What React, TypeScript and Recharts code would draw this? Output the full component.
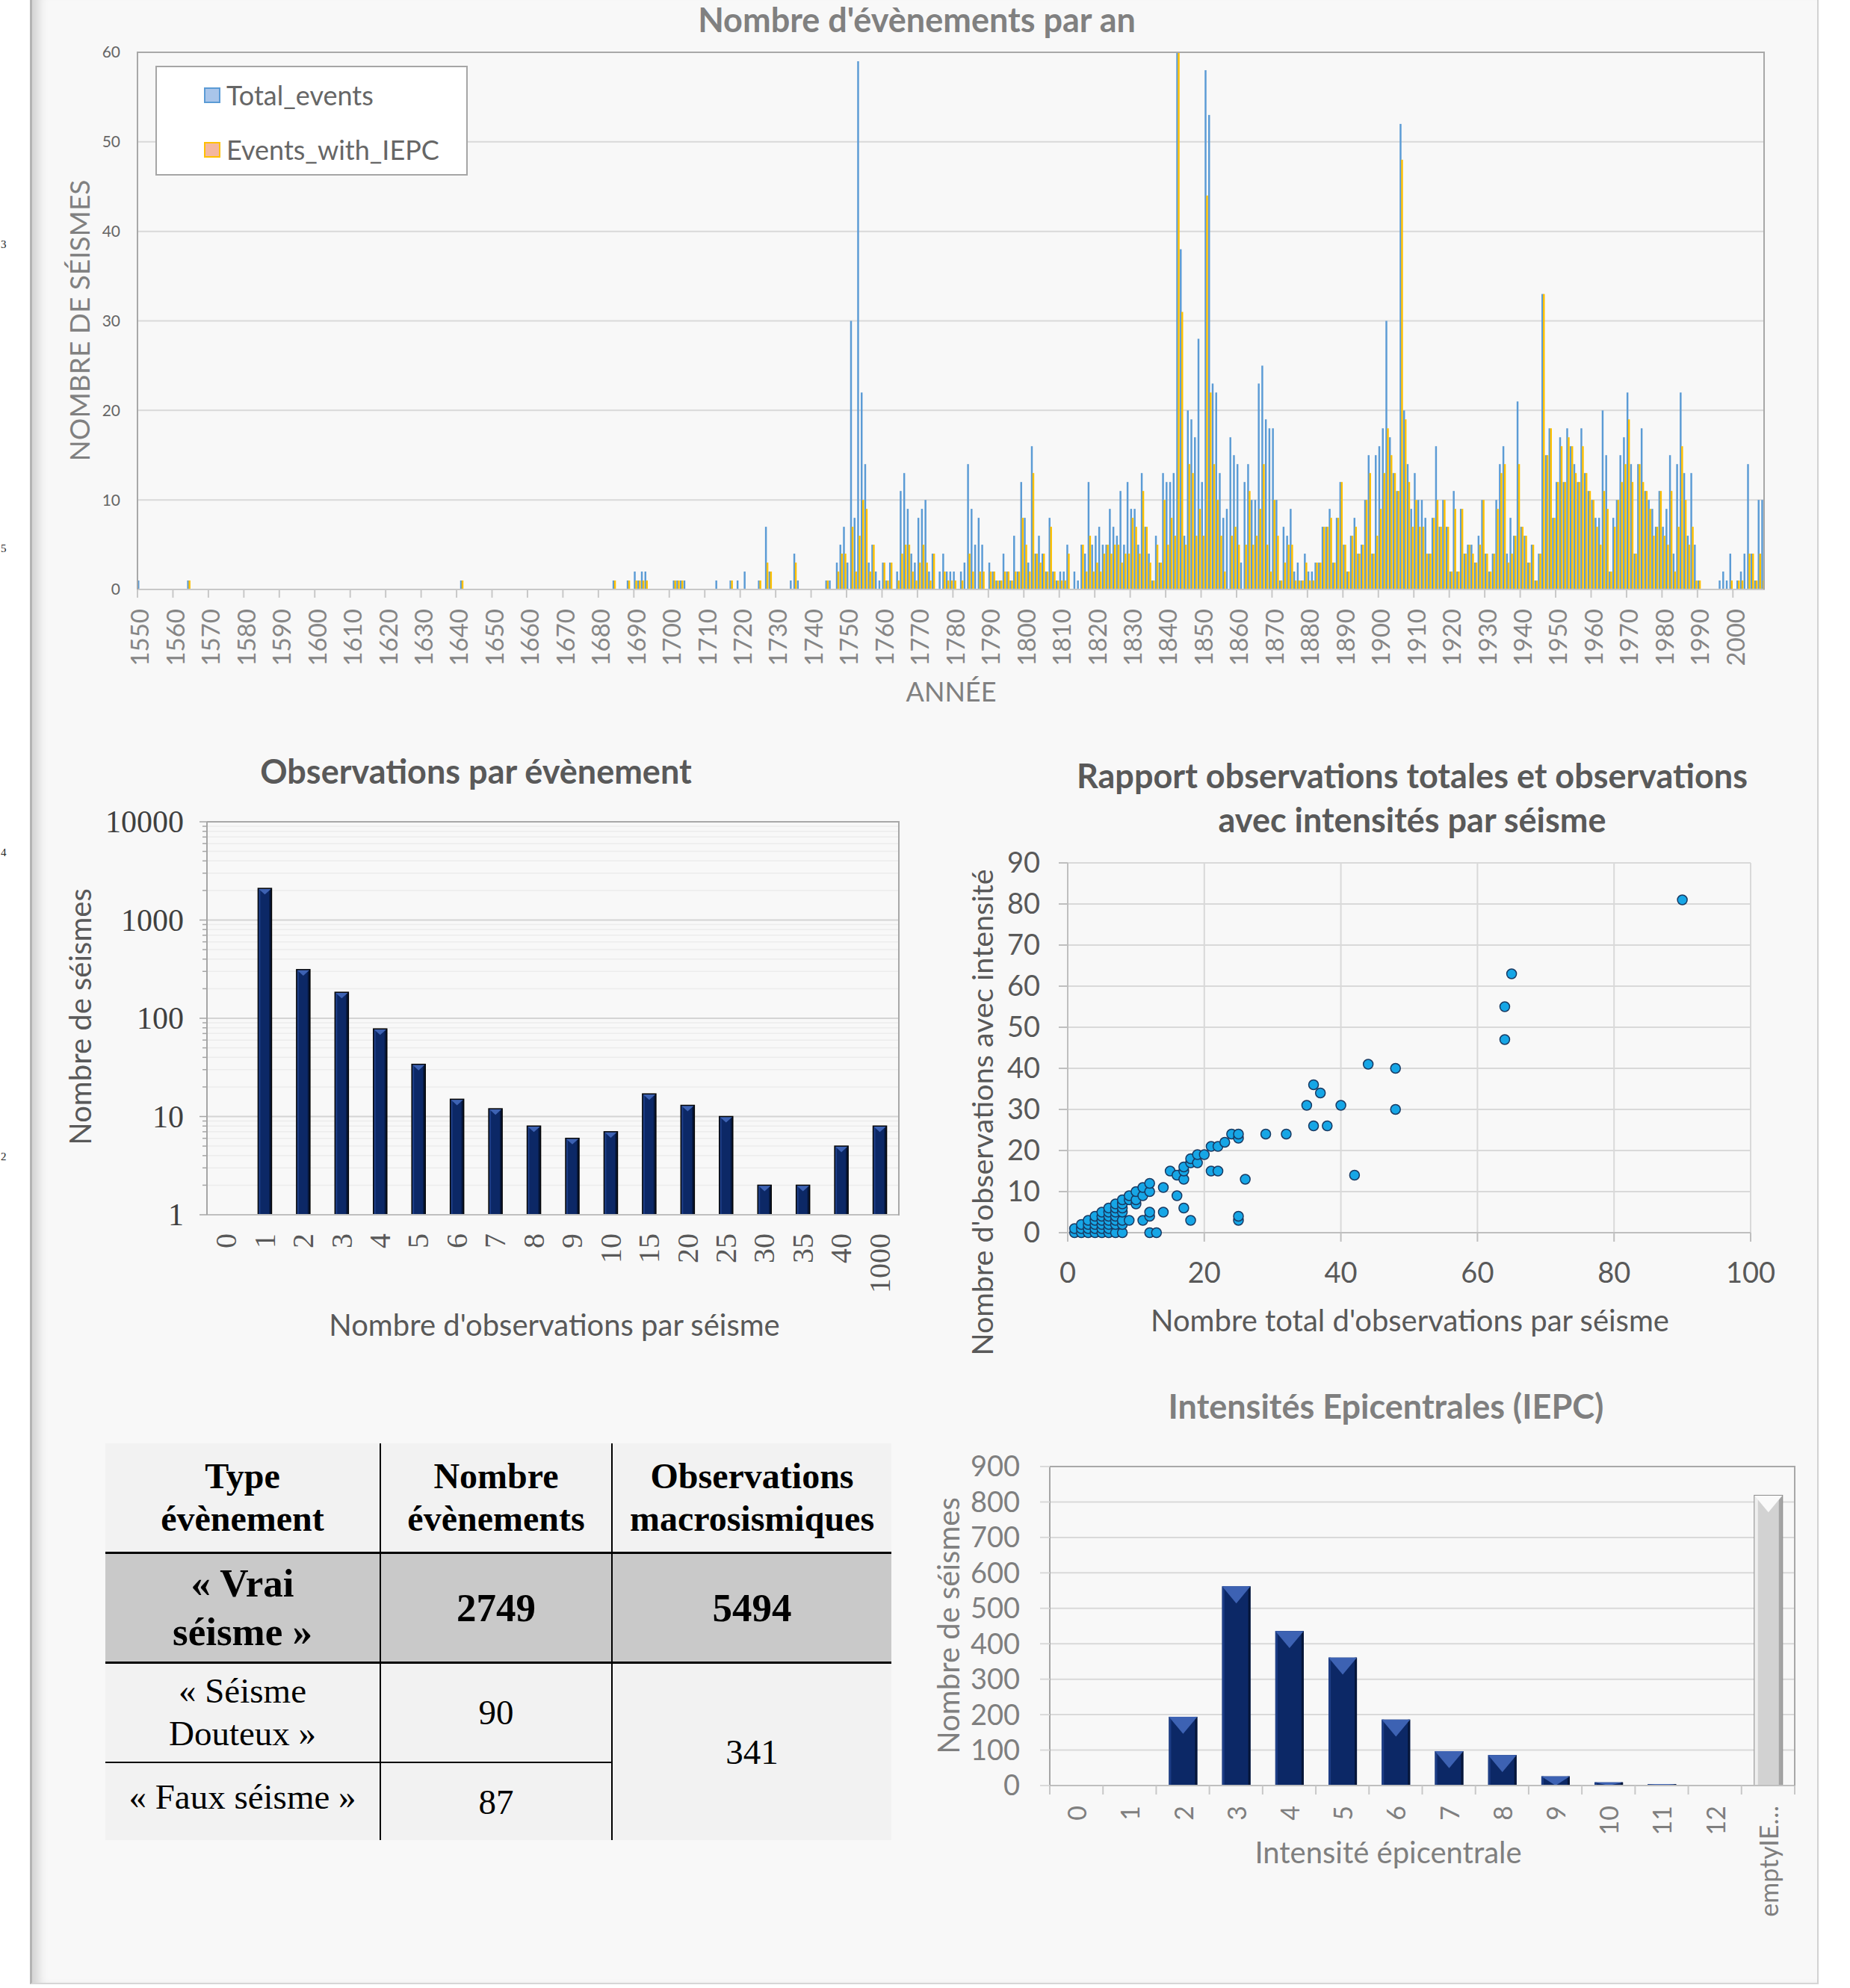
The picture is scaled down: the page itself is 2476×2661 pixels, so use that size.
import React from "react";
import { Bar, BarChart, CartesianGrid, Scatter, ScatterChart, XAxis, YAxis } from "recharts";

const SANS = "Lato, 'Open Sans', sans-serif";
const SERIF = "'Liberation Serif', 'DejaVu Serif', serif";

// ---- Nombre d'évènements par an (one row per decade, from 1550) ----
const firstYear = 1550;
const totalEvents: number[][] = [
  [1, 0, 0, 0, 0, 0, 0, 0, 0, 0], // 1550
  [0, 0, 0, 0, 1, 0, 0, 0, 0, 0],
  [0, 0, 0, 0, 0, 0, 0, 0, 0, 0],
  [0, 0, 0, 0, 0, 0, 0, 0, 0, 0],
  [0, 0, 0, 0, 0, 0, 0, 0, 0, 0],
  [0, 0, 0, 0, 0, 0, 0, 0, 0, 0], // 1600
  [0, 0, 0, 0, 0, 0, 0, 0, 0, 0],
  [0, 0, 0, 0, 0, 0, 0, 0, 0, 0],
  [0, 0, 0, 0, 0, 0, 0, 0, 0, 0],
  [0, 1, 0, 0, 0, 0, 0, 0, 0, 0],
  [0, 0, 0, 0, 0, 0, 0, 0, 0, 0], // 1650
  [0, 0, 0, 0, 0, 0, 0, 0, 0, 0],
  [0, 0, 0, 0, 0, 0, 0, 0, 0, 0],
  [0, 0, 0, 0, 1, 0, 0, 0, 1, 0],
  [2, 1, 2, 2, 0, 0, 0, 0, 0, 0],
  [0, 1, 1, 1, 1, 0, 0, 0, 0, 0], // 1700
  [0, 0, 0, 1, 0, 0, 0, 1, 0, 1],
  [0, 2, 0, 0, 0, 1, 0, 7, 2, 0],
  [0, 0, 0, 0, 1, 4, 1, 0, 0, 0],
  [0, 0, 0, 0, 1, 1, 0, 3, 5, 7],
  [3, 30, 8, 59, 22, 14, 3, 5, 2, 1], // 1750
  [3, 1, 3, 0, 2, 11, 13, 9, 4, 3],
  [8, 9, 10, 2, 4, 0, 2, 4, 2, 2],
  [2, 0, 2, 3, 14, 9, 5, 8, 5, 0],
  [3, 2, 1, 1, 4, 2, 1, 6, 2, 12],
  [8, 3, 16, 4, 6, 4, 2, 8, 2, 1], // 1800
  [2, 2, 5, 0, 2, 1, 5, 4, 12, 5],
  [6, 7, 5, 5, 9, 7, 6, 11, 5, 12],
  [9, 9, 5, 13, 7, 4, 1, 6, 3, 13],
  [12, 12, 13, 60, 38, 6, 20, 19, 17, 28],
  [12, 58, 53, 23, 22, 13, 8, 9, 17, 15], // 1850
  [14, 3, 12, 14, 10, 10, 23, 25, 19, 18],
  [18, 10, 1, 7, 6, 9, 2, 3, 1, 4],
  [2, 2, 3, 3, 7, 7, 9, 3, 8, 12],
  [5, 2, 6, 8, 4, 5, 10, 15, 4, 15],
  [16, 18, 30, 17, 13, 11, 52, 20, 14, 9], // 1900
  [13, 10, 10, 8, 4, 8, 16, 7, 10, 7],
  [2, 11, 2, 9, 4, 5, 5, 3, 6, 10],
  [4, 2, 4, 10, 14, 16, 4, 8, 6, 21],
  [7, 6, 3, 5, 1, 4, 33, 15, 18, 8],
  [12, 17, 12, 18, 16, 14, 12, 18, 13, 11], // 1950
  [10, 8, 8, 20, 15, 2, 8, 10, 15, 17],
  [22, 14, 4, 14, 18, 11, 10, 9, 7, 11],
  [7, 9, 15, 4, 14, 22, 13, 6, 13, 5],
  [1, 0, 0, 0, 0, 0, 1, 2, 1, 4],
  [0, 1, 2, 4, 14, 4, 1, 10, 10], // 2000
];

const eventsWithIepc: number[][] = [
  [0, 0, 0, 0, 0, 0, 0, 0, 0, 0], // 1550
  [0, 0, 0, 0, 1, 0, 0, 0, 0, 0],
  [0, 0, 0, 0, 0, 0, 0, 0, 0, 0],
  [0, 0, 0, 0, 0, 0, 0, 0, 0, 0],
  [0, 0, 0, 0, 0, 0, 0, 0, 0, 0],
  [0, 0, 0, 0, 0, 0, 0, 0, 0, 0], // 1600
  [0, 0, 0, 0, 0, 0, 0, 0, 0, 0],
  [0, 0, 0, 0, 0, 0, 0, 0, 0, 0],
  [0, 0, 0, 0, 0, 0, 0, 0, 0, 0],
  [0, 1, 0, 0, 0, 0, 0, 0, 0, 0],
  [0, 0, 0, 0, 0, 0, 0, 0, 0, 0], // 1650
  [0, 0, 0, 0, 0, 0, 0, 0, 0, 0],
  [0, 0, 0, 0, 0, 0, 0, 0, 0, 0],
  [0, 0, 0, 0, 1, 0, 0, 0, 1, 0],
  [1, 1, 1, 1, 0, 0, 0, 0, 0, 0],
  [0, 1, 1, 1, 0, 0, 0, 0, 0, 0], // 1700
  [0, 0, 0, 0, 0, 0, 0, 1, 0, 0],
  [0, 0, 0, 0, 0, 1, 0, 3, 2, 0],
  [0, 0, 0, 0, 0, 3, 0, 0, 0, 0],
  [0, 0, 0, 0, 1, 0, 0, 2, 4, 4],
  [0, 7, 2, 6, 10, 9, 2, 5, 0, 0], // 1750
  [3, 1, 3, 0, 1, 4, 5, 5, 2, 1],
  [3, 5, 3, 1, 4, 0, 0, 2, 1, 1],
  [1, 0, 1, 0, 4, 2, 0, 2, 2, 0],
  [2, 2, 1, 1, 2, 2, 1, 2, 2, 8],
  [5, 2, 13, 4, 3, 4, 2, 7, 2, 1], // 1800
  [1, 1, 4, 0, 0, 0, 5, 2, 6, 2],
  [3, 2, 4, 5, 4, 5, 5, 3, 4, 4],
  [8, 7, 4, 11, 7, 3, 1, 5, 3, 10],
  [5, 8, 6, 60, 31, 5, 14, 13, 6, 9],
  [6, 44, 22, 14, 10, 6, 2, 0, 6, 7], // 1850
  [5, 0, 5, 11, 5, 6, 9, 14, 5, 2],
  [10, 6, 1, 3, 5, 5, 1, 1, 1, 3],
  [1, 1, 3, 3, 7, 7, 8, 3, 8, 12],
  [5, 2, 6, 7, 4, 5, 10, 13, 4, 6],
  [9, 13, 18, 15, 13, 11, 48, 19, 12, 7], // 1900
  [10, 7, 7, 4, 4, 8, 10, 7, 10, 7],
  [2, 9, 2, 9, 4, 5, 4, 3, 5, 10],
  [4, 2, 4, 9, 13, 14, 3, 4, 6, 14],
  [7, 6, 3, 5, 1, 4, 33, 15, 18, 8],
  [12, 16, 12, 17, 16, 13, 12, 16, 13, 11], // 1950
  [10, 7, 5, 11, 9, 2, 7, 10, 12, 14],
  [19, 12, 4, 14, 12, 11, 9, 6, 7, 11],
  [6, 5, 11, 2, 7, 16, 10, 5, 7, 1],
  [1, 0, 0, 0, 0, 0, 0, 0, 0, 1],
  [0, 1, 1, 0, 4, 4, 1, 4, 1], // 2000
];
const yearTicks = [0, 10, 20, 30, 40, 50, 60];

// ---- Observations par évènement ----
const obsCategories = ["0", "1", "2", "3", "4", "5", "6", "7", "8", "9", "10", "15", "20", "25", "30", "35", "40", "1000"];
const obsCounts = [null, 2100, 313, 184, 78, 34, 15, 12, 8, 6, 7, 17, 13, 10, 2, 2, 5, 8];
const logMajorTicks = [1, 10, 100, 1000, 10000];
const logMinorTicks = [
  2, 3, 4, 5, 6, 7, 8, 9, 20, 30, 40, 50, 60, 70, 80, 90,
  200, 300, 400, 500, 600, 700, 800, 900, 2000, 3000, 4000, 5000, 6000, 7000, 8000, 9000,
];

// ---- Rapport observations totales / avec intensités ----
const scatterPoints: [number, number][] = [
  [1, 0], [1, 1], [2, 0], [2, 1], [2, 2], [3, 0], [3, 1], [3, 2], [3, 3], [4, 0], [4, 1], [4, 2],
  [4, 3], [4, 4], [5, 0], [5, 1], [5, 2], [5, 3], [5, 4], [5, 5], [6, 0], [6, 1], [6, 2], [6, 3],
  [6, 4], [6, 5], [6, 6], [7, 0], [7, 2], [7, 3], [7, 4], [7, 5], [7, 6], [7, 7], [8, 0], [8, 2],
  [8, 3], [8, 5], [8, 6], [8, 7], [8, 8], [9, 3], [9, 8], [9, 9], [10, 7], [10, 8], [10, 10],
  [11, 3], [11, 9], [11, 11], [12, 0], [12, 4], [12, 5], [12, 10], [12, 12], [13, 0], [14, 5],
  [14, 11], [15, 15], [16, 9], [16, 14], [17, 6], [17, 13], [17, 15], [17, 16], [18, 3], [18, 17],
  [18, 18], [19, 17], [19, 19], [20, 19], [21, 15], [21, 21], [22, 15], [22, 21], [23, 22],
  [24, 24], [25, 3], [25, 4], [25, 23], [25, 24], [26, 13], [29, 24], [32, 24], [35, 31],
  [36, 26], [36, 36], [37, 34], [38, 26], [40, 31], [42, 14], [44, 41], [48, 30], [48, 40],
  [64, 47], [64, 55], [65, 63], [90, 81],
];
const scatterXTicks = [0, 20, 40, 60, 80, 100];
const scatterYTicks = [0, 10, 20, 30, 40, 50, 60, 70, 80, 90];

// ---- Intensités Epicentrales (IEPC) ----
const iepcCategories = ["0", "1", "2", "3", "4", "5", "6", "7", "8", "9", "10", "11", "12", "emptyIE…"];
const iepcCounts = [0, 0, 194, 562, 436, 361, 186, 97, 86, 26, 9, 4, 0, 819];
const iepcTicks = [0, 100, 200, 300, 400, 500, 600, 700, 800, 900];

// ---- Tableau ----
const tableHeader = [["Type", "évènement"], ["Nombre", "évènements"], ["Observations", "macrosismiques"]];
const vraiRow = { label: ["« Vrai", "séisme »"], events: "2749", observations: "5494" };
const douteuxRow = { label: ["« Séisme", "Douteux »"], events: "90" };
const fauxRow = { label: ["« Faux séisme »"], events: "87" };
const otherObservations = "341";

// bits of the neighbouring page, at the left edge
const marginGlyphs = ["3", "5", "4", "2"];

const totalsFlat = totalEvents.flat();
const iepcFlat = eventsWithIepc.flat();
const yearData = totalsFlat.map((total, i) => ({ year: firstYear + i, total, iepc: iepcFlat[i] }));
const obsData = obsCategories.map((label, i) => ({ label, count: obsCounts[i] }));
const scatterData = scatterPoints.map(([x, y]) => ({ x, y }));
const iepcData = iepcCategories.map((label, i) => ({ label, count: iepcCounts[i] }));

const YEAR_BAND = (2362 - 184) / yearData.length;
const IEPC_BAND = (2402 - 1405) / iepcData.length;

function Txt({ x, y, size, bold, color, rotate, family, children }: any) {
  return (
    <div
      style={{
        position: "absolute",
        left: x,
        top: y,
        transform: `translate(-50%, -50%)${rotate ? " rotate(-90deg)" : ""}`,
        whiteSpace: "nowrap",
        fontSize: size,
        fontWeight: bold ? 700 : 400,
        color,
        fontFamily: family ?? SANS,
        lineHeight: 1,
      }}
    >
      {children}
    </div>
  );
}

function YearTick({ x, y, payload }: any) {
  const year = Number(payload?.value);
  if (year % 10 !== 0) return null;
  const edge = x - YEAR_BAND / 2;
  return (
    <g>
      <line x1={edge} y1={y} x2={edge} y2={y + 11} stroke="#c8c8c8" strokeWidth={2} />
      <text
        transform={`translate(${x},${y + 26}) rotate(-90)`}
        textAnchor="end"
        dominantBaseline="central"
        fontSize={33}
        fontFamily={SANS}
        fill="#858585"
      >
        {year}
      </text>
    </g>
  );
}

// thin year bars: widen slightly so the pairs fill the band like the original
function YearBar({ x, y, width, height, fill }: any) {
  if (!height || height <= 0) return null;
  return <rect x={x} y={y} width={width + 0.45} height={height} fill={fill} />;
}

function ObsXTick({ x, y, payload }: any) {
  return (
    <text
      transform={`translate(${x},${y + 25}) rotate(-90)`}
      textAnchor="end"
      dominantBaseline="central"
      fontSize={40}
      fontFamily={SERIF}
      fill="#595959"
    >
      {payload.value}
    </text>
  );
}

function LogYTick({ x, y, payload }: any) {
  const v = Number(payload.value);
  const major = logMajorTicks.includes(v);
  return (
    <g>
      <line x1={x - (major ? 10 : 6)} y1={y} x2={x} y2={y} stroke="#a6a6a6" strokeWidth={1.5} />
      {major && (
        <text x={x - 31} y={y} textAnchor="end" dominantBaseline="central" fontSize={42} fontFamily={SERIF} fill="#404040">
          {v}
        </text>
      )}
    </g>
  );
}

function LogGridLine(props: any) {
  const { x1, x2, y1 } = props;
  const f = ((y1 - 100) / 526) * 4;
  const major = Math.abs(f - Math.round(f)) < 0.02;
  return <line x1={x1} x2={x2} y1={y1} y2={y1} stroke={major ? "#d4d4d4" : "#ececec"} strokeWidth={major ? 2 : 1.5} />;
}

function IepcXTick({ x, y, payload, index }: any) {
  const last = index === iepcData.length - 1;
  return (
    <g>
      <line x1={x - IEPC_BAND / 2} y1={y} x2={x - IEPC_BAND / 2} y2={y + 12} stroke="#c8c8c8" strokeWidth={2} />
      {last && <line x1={x + IEPC_BAND / 2} y1={y} x2={x + IEPC_BAND / 2} y2={y + 12} stroke="#c8c8c8" strokeWidth={2} />}
      <text
        transform={`translate(${x},${y + 27}) rotate(-90)`}
        textAnchor="end"
        dominantBaseline="central"
        fontSize={34}
        fontFamily={SANS}
        fill="#7f7f7f"
      >
        {payload.value}
      </text>
    </g>
  );
}

function BevelBar({ x, y, width, height, gray, outline }: any) {
  if (!height || height <= 0) return null;
  const tri = Math.min(width * (outline ? 0.45 : 0.6), height);
  const body = gray ? "#d2d2d2" : "#0c2866";
  const left = gray ? "#eeeeee" : "#1d3d85";
  const right = gray ? "#a4a4a4" : "#061638";
  const top = gray ? "#fafafa" : "#3d62b3";
  const strip = Math.min(gray ? 5 : 3, width / 5);
  return (
    <g>
      <rect x={x} y={y} width={width} height={height} fill={body} />
      <rect x={x} y={y} width={strip} height={height} fill={left} />
      <rect x={x + width - strip} y={y} width={strip} height={height} fill={right} />
      <path d={`M${x},${y} L${x + width},${y} L${x + width / 2},${y + tri} Z`} fill={top} />
      {outline && <rect x={x} y={y} width={width} height={height} fill="none" stroke="#050505" strokeWidth={1.5} />}
      {gray && <rect x={x} y={y} width={width} height={height} fill="none" stroke="#8c8c8c" strokeWidth={1} />}
    </g>
  );
}

function DataTable() {
  const cell = (extra: any = {}) => ({
    padding: 0,
    textAlign: "center" as const,
    verticalAlign: "middle" as const,
    ...extra,
  });
  const vline = "2px solid #000";
  const thick = "3px solid #000";
  return (
    <table
      style={{
        position: "absolute",
        left: 141,
        top: 1932,
        width: 1052,
        borderCollapse: "collapse",
        tableLayout: "fixed",
        fontFamily: SERIF,
        color: "#000",
        background: "#f2f2f2",
      }}
    >
      <colgroup>
        <col style={{ width: 368 }} />
        <col style={{ width: 310 }} />
        <col style={{ width: 374 }} />
      </colgroup>
      <tbody>
        <tr style={{ height: 146 }}>
          {tableHeader.map((lines, i) => (
            <td
              key={i}
              style={cell({
                fontWeight: 700,
                fontSize: 48,
                lineHeight: "57px",
                borderBottom: thick,
                borderRight: i < 2 ? vline : "none",
              })}
            >
              {lines[0]}
              <br />
              {lines[1]}
            </td>
          ))}
        </tr>
        <tr style={{ height: 147, background: "#c9c9c9" }}>
          <td style={cell({ fontWeight: 700, fontSize: 53, lineHeight: "65px", borderBottom: thick, borderRight: vline })}>
            {vraiRow.label[0]}
            <br />
            {vraiRow.label[1]}
          </td>
          <td style={cell({ fontWeight: 700, fontSize: 53, borderBottom: thick, borderRight: vline })}>{vraiRow.events}</td>
          <td style={cell({ fontWeight: 700, fontSize: 53, borderBottom: thick })}>{vraiRow.observations}</td>
        </tr>
        <tr style={{ height: 134 }}>
          <td style={cell({ fontSize: 47, lineHeight: "57px", borderBottom: vline, borderRight: vline })}>
            {douteuxRow.label[0]}
            <br />
            {douteuxRow.label[1]}
          </td>
          <td style={cell({ fontSize: 47, borderBottom: vline, borderRight: vline })}>{douteuxRow.events}</td>
          <td rowSpan={2} style={cell({ fontSize: 47 })}>
            {otherObservations}
          </td>
        </tr>
        <tr style={{ height: 104 }}>
          <td style={cell({ fontSize: 47, borderRight: vline, paddingBottom: 14 })}>{fauxRow.label[0]}</td>
          <td style={cell({ fontSize: 47, borderRight: vline })}>{fauxRow.events}</td>
        </tr>
      </tbody>
    </table>
  );
}

export default function App() {
  return (
    <div style={{ position: "relative", width: 2476, height: 2661, background: "#ffffff", overflow: "hidden", fontFamily: SANS }}>
      <style>{"body{margin:0;}"}</style>

      {/* page sheet */}
      <div
        style={{
          position: "absolute",
          left: 40,
          top: -4,
          width: 2394,
          height: 2660,
          boxSizing: "border-box",
          background: "#f8f8f8",
          borderLeft: "3px solid #b4b4b4",
          borderRight: "2px solid #d2d2d2",
          borderBottom: "2px solid #d6d6d6",
          boxShadow: "inset 16px 0 14px -8px rgba(0,0,0,0.16)",
        }}
      />
      {marginGlyphs.map((c, i) => (
        <div
          key={i}
          style={{ position: "absolute", left: 1, top: 320 + i * 407, fontFamily: SERIF, fontSize: 15, lineHeight: 1, color: "#222" }}
        >
          {c}
        </div>
      ))}

      {/* ---------- Nombre d'évènements par an ---------- */}
      <div style={{ position: "absolute", left: 0, top: 0 }}>
        <BarChart
          width={2476}
          height={960}
          data={yearData}
          margin={{ top: 70, right: 114, bottom: 71, left: 0 }}
          barCategoryGap={0}
          barGap={0}
        >
          <CartesianGrid vertical={false} stroke="#d9d9d9" strokeWidth={2} />
          <XAxis
            dataKey="year"
            interval={0}
            height={100}
            tickLine={false}
            tickSize={0}
            tickMargin={0}
            axisLine={{ stroke: "#c8c8c8", strokeWidth: 2 }}
            tick={(p: any) => <YearTick {...p} />}
          />
          <YAxis
            domain={[0, 60]}
            ticks={yearTicks}
            interval={0}
            allowDataOverflow
            width={184}
            axisLine={false}
            tickLine={false}
            tickSize={0}
            tickMargin={23}
            tick={{ fontSize: 21, fill: "#666666", fontFamily: SANS }}
          />
          <Bar
            dataKey="total"
            name="Total_events"
            fill="#5b9bd5"
            isAnimationActive={false}
            shape={(p: any) => <YearBar {...p} fill="#5b9bd5" />}
          />
          <Bar
            dataKey="iepc"
            name="Events_with_IEPC"
            fill="#ffc000"
            isAnimationActive={false}
            shape={(p: any) => <YearBar {...p} fill="#ffc000" />}
          />
        </BarChart>
      </div>
      <div
        style={{
          position: "absolute",
          left: 183,
          top: 69,
          width: 2362 - 183,
          height: 720,
          boxSizing: "border-box",
          borderTop: "2px solid #a8a8a8",
          borderLeft: "2px solid #a8a8a8",
          borderRight: "2px solid #a8a8a8",
          pointerEvents: "none",
        }}
      />
      <div
        style={{
          position: "absolute",
          left: 208,
          top: 88,
          width: 418,
          height: 147,
          boxSizing: "border-box",
          background: "#ffffff",
          border: "2px solid #a6a6a6",
        }}
      >
        {[
          { label: "Total_events", fill: "#a9c5ea", stroke: "#5b9bd5", top: 19 },
          { label: "Events_with_IEPC", fill: "#f4b7a0", stroke: "#ffc000", top: 92 },
        ].map((item) => (
          <div key={item.label} style={{ position: "absolute", left: 63, top: item.top, display: "flex", alignItems: "center" }}>
            <div
              style={{
                width: 22,
                height: 21,
                boxSizing: "border-box",
                background: item.fill,
                border: `2px solid ${item.stroke}`,
                marginRight: 8,
              }}
            />
            <span style={{ fontSize: 36, color: "#666666", fontFamily: SANS, lineHeight: 1 }}>{item.label}</span>
          </div>
        ))}
      </div>
      <Txt x={1227} y={26} size={45} bold color="#808080">
        Nombre d'évènements par an
      </Txt>
      <Txt x={105} y={429} size={37} color="#808080" rotate>
        NOMBRE DE SÉISMES
      </Txt>
      <Txt x={1273} y={925} size={36} color="#808080">
        ANNÉE
      </Txt>

      {/* ---------- Observations par évènement ---------- */}
      <div style={{ position: "absolute", left: 0, top: 1000 }}>
        <BarChart width={1240} height={800} data={obsData} margin={{ top: 100, right: 37, bottom: 24, left: 0 }}>
          <CartesianGrid vertical={false} horizontal={(p: any) => <LogGridLine key={p.key} {...p} />} />
          <XAxis
            dataKey="label"
            interval={0}
            height={150}
            tickLine={false}
            tickSize={0}
            tickMargin={0}
            axisLine={{ stroke: "#bfbfbf", strokeWidth: 2 }}
            tick={(p: any) => <ObsXTick {...p} />}
          />
          <YAxis
            scale="log"
            domain={[1, 10000]}
            allowDataOverflow
            ticks={[...logMajorTicks, ...logMinorTicks].sort((a, b) => a - b)}
            interval={0}
            width={277}
            tickLine={false}
            tickSize={0}
            tickMargin={0}
            axisLine={{ stroke: "#a6a6a6", strokeWidth: 2 }}
            tick={(p: any) => <LogYTick {...p} />}
          />
          <Bar
            dataKey="count"
            barSize={18}
            isAnimationActive={false}
            shape={(p: any) => <BevelBar {...p} outline />}
          />
        </BarChart>
      </div>
      <div
        style={{
          position: "absolute",
          left: 277,
          top: 1099,
          width: 1204 - 277,
          height: 528,
          boxSizing: "border-box",
          borderTop: "2px solid #a8a8a8",
          borderRight: "2px solid #a8a8a8",
          pointerEvents: "none",
        }}
      />
      <Txt x={637} y={1032} size={45} bold color="#595959">
        Observations par évènement
      </Txt>
      <Txt x={107} y={1361} size={40} color="#595959" rotate>
        Nombre de séismes
      </Txt>
      <Txt x={742} y={1773} size={40} color="#595959">
        Nombre d'observations par séisme
      </Txt>

      {/* ---------- Rapport observations totales et avec intensités ---------- */}
      <div style={{ position: "absolute", left: 1240, top: 1000 }}>
        <ScatterChart width={1200} height={800} margin={{ top: 155, right: 97, bottom: 50, left: 0 }}>
          <CartesianGrid stroke="#d9d9d9" strokeWidth={2} />
          <XAxis
            type="number"
            dataKey="x"
            domain={[0, 100]}
            ticks={scatterXTicks}
            interval={0}
            height={100}
            tickSize={12}
            tickMargin={28}
            axisLine={{ stroke: "#bfbfbf", strokeWidth: 2 }}
            tickLine={{ stroke: "#bfbfbf", strokeWidth: 2 }}
            tick={{ fontSize: 38, fill: "#595959", fontFamily: SANS }}
          />
          <YAxis
            type="number"
            dataKey="y"
            domain={[0, 90]}
            ticks={scatterYTicks}
            interval={0}
            width={189}
            tickSize={12}
            tickMargin={25}
            axisLine={{ stroke: "#bfbfbf", strokeWidth: 2 }}
            tickLine={{ stroke: "#bfbfbf", strokeWidth: 2 }}
            tick={{ fontSize: 38, fill: "#595959", fontFamily: SANS }}
          />
          <Scatter
            data={scatterData}
            isAnimationActive={false}
            shape={(p: any) => <circle cx={p.cx} cy={p.cy} r={6.5} fill="#16a6e6" stroke="#183a63" strokeWidth={1.5} />}
          />
        </ScatterChart>
      </div>
      <Txt x={1890} y={1038} size={45} bold color="#595959">
        Rapport observations totales et observations
      </Txt>
      <Txt x={1890} y={1097} size={45} bold color="#595959">
        avec intensités par séisme
      </Txt>
      <Txt x={1887} y={1767} size={40} color="#595959">
        Nombre total d'observations par séisme
      </Txt>
      <Txt x={1314} y={1489} size={39.5} color="#595959" rotate>
        Nombre d'observations avec intensité
      </Txt>

      {/* ---------- Tableau ---------- */}
      <DataTable />

      {/* ---------- Intensités Epicentrales (IEPC) ---------- */}
      <div style={{ position: "absolute", left: 1220, top: 1900 }}>
        <BarChart width={1240} height={700} data={iepcData} margin={{ top: 63, right: 58, bottom: 30, left: 0 }}>
          <CartesianGrid vertical={false} stroke="#d9d9d9" strokeWidth={2} />
          <XAxis
            dataKey="label"
            interval={0}
            height={180}
            tickLine={false}
            tickSize={0}
            tickMargin={0}
            axisLine={{ stroke: "#bfbfbf", strokeWidth: 2 }}
            tick={(p: any) => <IepcXTick {...p} />}
          />
          <YAxis
            domain={[0, 900]}
            ticks={iepcTicks}
            interval={0}
            width={185}
            tickSize={13}
            tickMargin={27}
            axisLine={{ stroke: "#a6a6a6", strokeWidth: 2 }}
            tickLine={{ stroke: "#d9d9d9", strokeWidth: 2 }}
            tick={{ fontSize: 38, fill: "#7f7f7f", fontFamily: SANS }}
          />
          <Bar
            dataKey="count"
            barSize={38}
            isAnimationActive={false}
            shape={(p: any) => <BevelBar {...p} gray={p.index === iepcData.length - 1} />}
          />
        </BarChart>
      </div>
      <div
        style={{
          position: "absolute",
          left: 1405,
          top: 1962,
          width: 2403 - 1405,
          height: 428,
          boxSizing: "border-box",
          borderTop: "2px solid #a8a8a8",
          borderRight: "2px solid #a8a8a8",
          pointerEvents: "none",
        }}
      />
      <Txt x={1855} y={1882} size={45} bold color="#7f7f7f">
        Intensités Epicentrales (IEPC)
      </Txt>
      <Txt x={1858} y={2479} size={40} color="#7f7f7f">
        Intensité épicentrale
      </Txt>
      <Txt x={1269} y={2176} size={40} color="#7f7f7f" rotate>
        Nombre de séismes
      </Txt>
    </div>
  );
}
